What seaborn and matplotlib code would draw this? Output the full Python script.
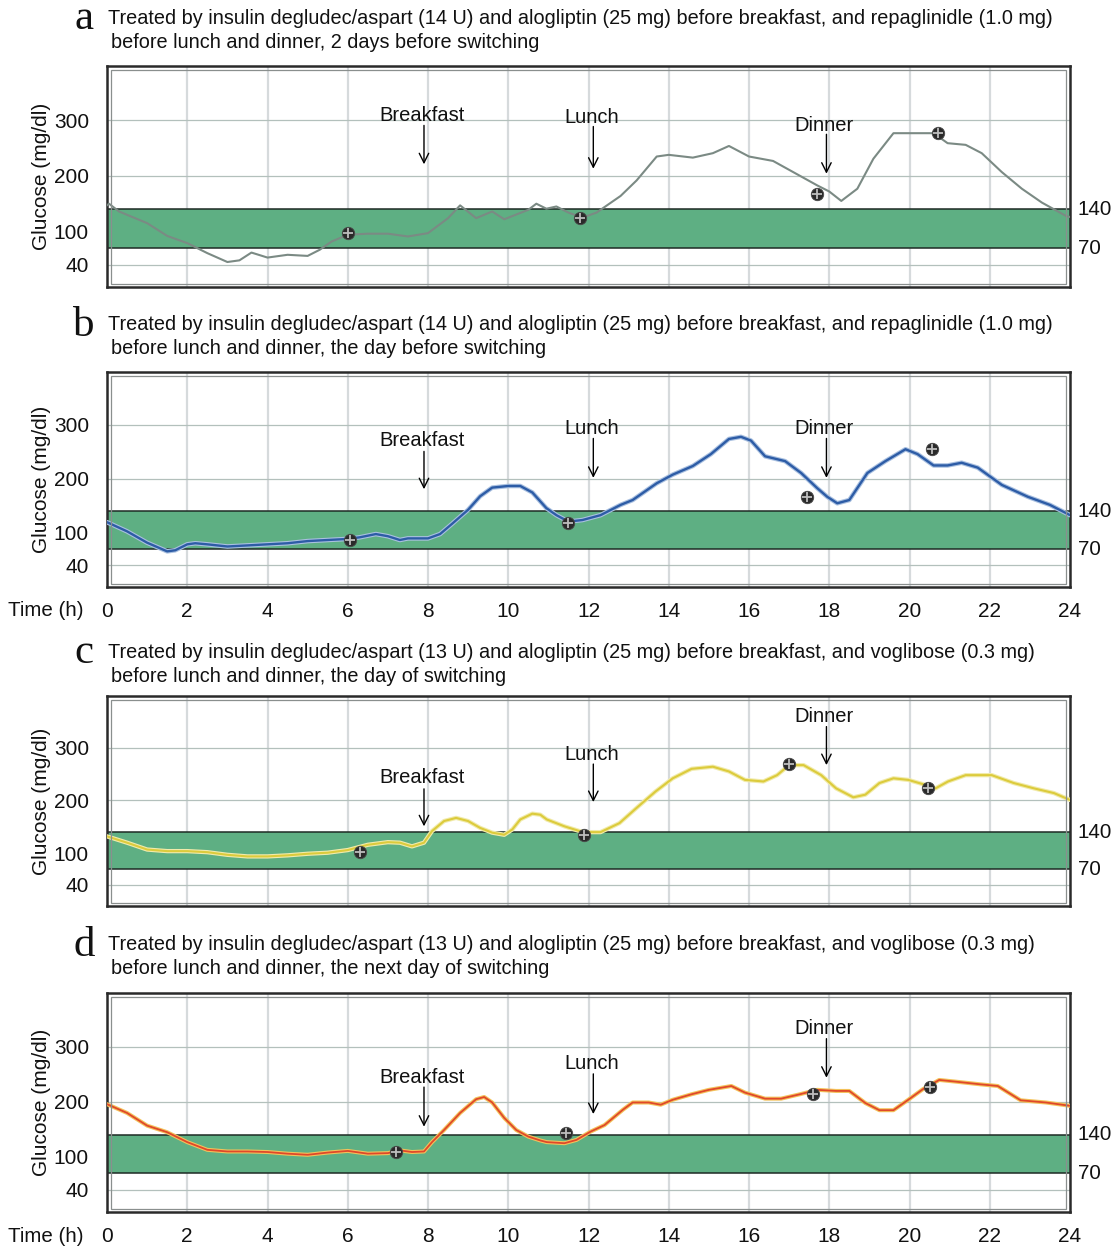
import matplotlib
matplotlib.use("Agg")
import matplotlib.pyplot as plt
import matplotlib.transforms as mtransforms
from matplotlib.patches import Rectangle
import seaborn as sns

W, H, DPI = 1115, 1249, 100

# ---- data (hour, mg/dl) ----
hours_a = [0.0, 0.05, 0.3, 1.0, 1.5, 2.0, 2.5, 3.0, 3.3, 3.6, 4.0, 4.5, 5.0, 5.3, 5.6, 6.0,
           6.5, 7.0, 7.5, 8.0, 8.5, 8.8, 9.2, 9.6, 9.9, 10.5, 10.7, 10.95, 11.2, 11.5, 11.85,
           12.2, 12.8, 13.2, 13.7, 14.0, 14.6, 15.1, 15.5, 16.0, 16.6, 17.1, 17.7, 18.0, 18.3,
           18.7, 19.1, 19.6, 20.2, 20.6, 20.95, 21.4, 21.8, 22.3, 22.8, 23.3, 23.9, 24.0]
glucose_a = [147, 150, 136, 115, 92, 79, 61, 45, 48, 62, 53, 58, 56, 67, 82, 94,
             96, 96, 91, 97, 124, 147, 124, 136, 122, 139, 150, 141, 145, 134, 125,
             134, 164, 192, 235, 238, 233, 241, 254, 235, 227, 207, 183, 172, 155,
             177, 231, 277, 277, 277, 259, 256, 241, 207, 177, 152, 128, 126]
marker_hours_a = [6.0, 11.8, 17.7, 20.7]
marker_glucose_a = [97, 125, 168, 278]

hours_b = [0.0, 0.5, 1.0, 1.5, 1.7, 2.0, 2.2, 2.5, 3.0, 3.5, 4.0, 4.5, 5.0, 5.5, 6.0, 6.3,
           6.7, 7.0, 7.3, 7.5, 8.0, 8.3, 8.6, 9.0, 9.3, 9.6, 10.0, 10.3, 10.6, 10.95, 11.2,
           11.5, 11.85, 12.3, 12.8, 13.1, 13.7, 14.1, 14.6, 15.05, 15.5, 15.8, 16.05, 16.4,
           16.9, 17.3, 17.7, 17.95, 18.2, 18.5, 18.95, 19.4, 19.9, 20.2, 20.6, 20.95, 21.3,
           21.7, 22.3, 22.95, 23.5, 24.0]
glucose_b = [120, 103, 82, 66, 68, 79, 81, 79, 75, 77, 79, 81, 85, 87, 89, 92,
             98, 94, 87, 90, 90, 98, 117, 143, 168, 184, 187, 187, 175, 146, 133,
             121, 124, 133, 152, 161, 192, 208, 224, 246, 274, 278, 271, 242,
             233, 211, 183, 167, 155, 161, 211, 233, 255, 246, 225, 225, 230,
             221, 189, 167, 152, 133]
marker_hours_b = [6.05, 11.5, 17.45, 20.55]
marker_glucose_b = [87, 119, 167, 256]

hours_c = [0.0, 0.5, 1.0, 1.5, 2.0, 2.5, 3.0, 3.5, 4.0, 4.5, 5.0, 5.5, 6.0, 6.5, 7.0, 7.3,
           7.6, 7.9, 8.1, 8.4, 8.7, 9.0, 9.3, 9.6, 9.9, 10.1, 10.3, 10.6, 10.8, 10.96, 11.4,
           11.86, 12.3, 12.77, 13.2, 13.67, 14.1, 14.57, 15.1, 15.5, 15.9, 16.36, 16.7, 17.0,
           17.36, 17.8, 18.17, 18.6, 18.9, 19.25, 19.6, 19.97, 20.33, 20.65, 20.96, 21.4,
           22.05, 22.6, 23.1, 23.6, 24.0]
glucose_c = [132, 120, 107, 104, 104, 102, 97, 94, 94, 96, 99, 101, 106, 116, 121, 120,
             113, 120, 142, 161, 167, 161, 148, 139, 135, 145, 164, 175, 173, 164, 151,
             140, 140, 157, 186, 217, 242, 260, 264, 255, 239, 236, 248, 267,
             267, 248, 223, 206, 211, 233, 242, 239, 231, 223, 236, 248,
             248, 233, 223, 214, 201]
marker_hours_c = [6.3, 11.9, 17.0, 20.45]
marker_glucose_c = [102, 134, 269, 223]

hours_d = [0.0, 0.5, 1.0, 1.5, 2.0, 2.5, 3.0, 3.5, 4.0, 4.5, 5.0, 5.5, 6.0, 6.5, 7.0, 7.3,
           7.6, 7.9, 8.1, 8.4, 8.8, 9.2, 9.4, 9.6, 9.9, 10.2, 10.5, 10.8, 10.96, 11.4, 11.7,
           12.05, 12.4, 12.86, 13.1, 13.5, 13.8, 14.1, 14.57, 15.0, 15.56, 15.9, 16.4, 16.8,
           17.27, 17.7, 18.17, 18.5, 18.9, 19.25, 19.6, 19.97, 20.33, 20.74, 21.14, 21.77,
           22.2, 22.77, 23.4, 24.0]
glucose_d = [196, 180, 157, 145, 127, 113, 110, 110, 109, 106, 104, 108, 111, 106, 107, 112,
             109, 110, 127, 149, 180, 205, 209, 199, 171, 149, 137, 130, 127, 125, 131,
             146, 158, 186, 199, 199, 195, 204, 214, 222, 229, 217, 206, 206,
             214, 222, 220, 220, 198, 185, 185, 204, 223, 240, 237, 232,
             229, 203, 199, 193]
marker_hours_d = [7.2, 11.43, 17.6, 20.5]
marker_glucose_d = [109, 144, 215, 227]

meal_labels = ["Breakfast", "Lunch", "Dinner"]
meal_hours = [7.9, 12.12, 17.93]

titles_line1 = [
    "Treated by insulin degludec/aspart (14 U) and alogliptin (25 mg) before breakfast, and repaglinidle (1.0 mg)",
    "Treated by insulin degludec/aspart (14 U) and alogliptin (25 mg) before breakfast, and repaglinidle (1.0 mg)",
    "Treated by insulin degludec/aspart (13 U) and alogliptin (25 mg) before breakfast, and voglibose (0.3 mg)",
    "Treated by insulin degludec/aspart (13 U) and alogliptin (25 mg) before breakfast, and voglibose (0.3 mg)",
]
titles_line2 = [
    "before lunch and dinner, 2 days before switching",
    "before lunch and dinner, the day before switching",
    "before lunch and dinner, the day of switching",
    "before lunch and dinner, the next day of switching",
]
panel_letters = ["a", "b", "c", "d"]
y_ticks = [40, 100, 200, 300]
target_low, target_high = 70, 140
time_ticks = list(range(0, 25, 2))

# ---- layout (pixel boxes of each panel: top, bottom) ----
panels = [
    dict(top=66, bottom=287, title_y=18, hours=hours_a, glucose=glucose_a,
         mh=marker_hours_a, mg=marker_glucose_a, line="#7b8a84", halo=None, lw=1.5,
         meals=[(309, 291, 221), (305, 289, 213), (290, 275, 204)], time_axis=False),
    dict(top=372, bottom=587, title_y=325, hours=hours_b, glucose=glucose_b,
         mh=marker_hours_b, mg=marker_glucose_b, line="#2d5ca6", halo="#a9c0e0", lw=1.7,
         meals=[(272, 251, 181), (294, 275, 202), (294, 275, 202)], time_axis=True),
    dict(top=696, bottom=906, title_y=652, hours=hours_c, glucose=glucose_c,
         mh=marker_hours_c, mg=marker_glucose_c, line="#dccb3c", halo="#f1ebab", lw=1.5,
         meals=[(243, 222, 151), (287, 269, 197), (360, 340, 267)], time_axis=False),
    dict(top=993, bottom=1212, title_y=945, hours=hours_d, glucose=glucose_d,
         mh=marker_hours_d, mg=marker_glucose_d, line="#e0482a", halo="#f3c25a", lw=1.3,
         meals=[(245, 227, 155), (269, 251, 178), (334, 315, 244)], time_axis=True),
]

sns.set_theme(style="white")
plt.rcParams["font.family"] = ["Liberation Sans", "DejaVu Sans"]

fig = plt.figure(figsize=(W / DPI, H / DPI), dpi=DPI)
LEFT, RIGHT = 107, 1070
band_color = "#5eaf83"
FS = 14.5

for i, p in enumerate(panels):
    ax = fig.add_axes([LEFT / W, 1 - p["bottom"] / H, (RIGHT - LEFT) / W,
                       (p["bottom"] - p["top"]) / H])
    ax.set_xlim(0, 24)
    ax.set_ylim(0, 398)

    for h in time_ticks[1:-1]:
        ax.axvline(h, color="#d6dadc", lw=1.6, zorder=0)
    for g in y_ticks:
        ax.axhline(g, color="#b3c0bc", lw=0.9, zorder=0)

    ax.axhspan(target_low, target_high, color=band_color, zorder=1, lw=0)
    ax.axhline(target_high, color="#1e2a24", lw=1.1, zorder=2)
    ax.axhline(target_low, color="#1e2a24", lw=1.1, zorder=2)

    if p["halo"]:
        sns.lineplot(x=p["hours"], y=p["glucose"], ax=ax, color=p["halo"], lw=p["lw"] + 1.6,
                     estimator=None, sort=False, zorder=3)
    sns.lineplot(x=p["hours"], y=p["glucose"], ax=ax, color=p["line"], lw=p["lw"],
                 estimator=None, sort=False, zorder=4)

    sns.scatterplot(x=p["mh"], y=p["mg"], ax=ax, s=80, color="#2a2a2a",
                    edgecolor="#4a4a4a", linewidth=0.6, zorder=5)
    ax.scatter(p["mh"], p["mg"], marker="+", s=60, c="#bdbdbd", linewidths=1.3, zorder=6)

    for label, hour, (ty, y0, y1) in zip(meal_labels, meal_hours, p["meals"]):
        ax.annotate("", xy=(hour, y1), xytext=(hour, y0),
                    arrowprops=dict(arrowstyle="->", lw=1.0, color="black",
                                    mutation_scale=17, shrinkA=0, shrinkB=0), zorder=7)
        ax.text(hour - 0.05, ty, label, ha="center", va="center", fontsize=FS,
                color="#111111", zorder=7)

    ax.set_yticks(y_ticks)
    ax.set_yticklabels([str(v) for v in y_ticks], fontsize=FS + 0.5, color="#111111")
    ax.tick_params(axis="y", length=0, pad=13)
    ax.set_xticks(time_ticks)
    if p["time_axis"]:
        ax.set_xticklabels([str(v) for v in time_ticks], fontsize=FS + 0.5, color="#111111")
        ax.tick_params(axis="x", length=0, pad=11)
        fig.text(46 / W, 1 - (p["bottom"] + 24) / H, "Time (h)", ha="center", va="center",
                 fontsize=FS + 0.3, color="#111111")
    else:
        ax.set_xticklabels([])
        ax.tick_params(axis="x", length=0)
    ax.set_xlabel("")
    ax.set_ylabel("")

    trans = mtransforms.blended_transform_factory(ax.transAxes, ax.transData)
    for v in (target_high, target_low):
        ax.text(1.008, v, str(v), transform=trans, ha="left", va="center",
                fontsize=FS + 0.3, color="#111111")

    for s in ax.spines.values():
        s.set_visible(True)
        s.set_color("#2a2a2a")
        s.set_linewidth(1.8)
    ax.add_patch(Rectangle((0.004, 0.012), 0.992, 0.968, transform=ax.transAxes,
                           fill=False, ec="#8a8f8e", lw=0.9, zorder=8))

    fig.text(42 / W, 1 - (p["top"] + p["bottom"]) / 2 / H, "Glucose (mg/dl)", rotation=90,
             ha="center", va="center", fontsize=FS + 0.5, color="#111111")
    fig.text(84 / W, 1 - (p["title_y"] + 1) / H, panel_letters[i], ha="center", va="center",
             fontsize=31, family=["Liberation Serif", "DejaVu Serif"], color="#111111")
    fig.text(108 / W, 1 - p["title_y"] / H, titles_line1[i], ha="left", va="center",
             fontsize=14.35, color="#111111")
    fig.text(111 / W, 1 - (p["title_y"] + 24) / H, titles_line2[i], ha="left", va="center",
             fontsize=14.35, color="#111111")

fig.savefig("out.png", dpi=DPI)
